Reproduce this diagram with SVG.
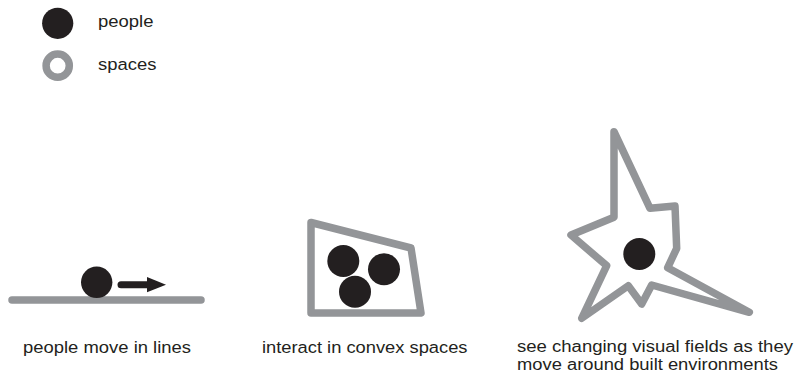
<svg xmlns="http://www.w3.org/2000/svg" width="799" height="376" viewBox="0 0 799 376">
<style>
.lbl{font-family:"Liberation Sans",Arial,Helvetica,sans-serif;font-size:16.8px;fill:#231f20}
.two{font-size:16px}
.ppl{fill:#231f20}
.spc{fill:none;stroke:#939598;stroke-width:7.5;stroke-linejoin:round;stroke-linecap:round}
</style>
<rect width="799" height="376" fill="#ffffff"/>
<g id="legend">
  <g id="legend-people">
    <circle class="ppl" cx="57.7" cy="23.3" r="15.6"/>
    <text class="lbl" x="98" y="27.4" textLength="55.5" lengthAdjust="spacingAndGlyphs">people</text>
  </g>
  <g id="legend-spaces">
    <circle class="spc" cx="57.7" cy="65.7" r="11.6"/>
    <text class="lbl" x="98" y="70" textLength="58.4" lengthAdjust="spacingAndGlyphs">spaces</text>
  </g>
</g>
<g id="lines-panel">
  <line class="spc" x1="12" y1="300" x2="201" y2="300"/>
  <circle class="ppl" cx="96.7" cy="282.3" r="15.7"/>
  <line x1="121" y1="284.7" x2="150" y2="284.7" stroke="#231f20" stroke-width="7" stroke-linecap="round"/>
  <polygon class="ppl" points="147,277 166,284.7 147,292.3"/>
  <text class="lbl" x="23" y="353" textLength="168" lengthAdjust="spacingAndGlyphs">people move in lines</text>
</g>
<g id="convex-panel">
  <polygon class="spc" points="311,222.5 411,248 421,313 311,313"/>
  <circle class="ppl" cx="343.3" cy="261" r="16"/>
  <circle class="ppl" cx="384" cy="269.3" r="16"/>
  <circle class="ppl" cx="355" cy="291.7" r="16"/>
  <text class="lbl" x="262" y="352.8" textLength="205.5" lengthAdjust="spacingAndGlyphs">interact in convex spaces</text>
</g>
<g id="visual-panel">
  <polygon class="spc" points="614,131.7 650,208.3 675,206 676.7,248.3 667.7,267.7 749.3,312.3 651.7,285 641.7,304 628.3,285.7 581.7,318.3 606.7,265.7 571,235 614,217.3"/>
  <circle class="ppl" cx="639.3" cy="254" r="16"/>
  <text class="lbl two" x="517" y="351.5" textLength="276" lengthAdjust="spacingAndGlyphs">see changing visual fields as they</text>
  <text class="lbl two" x="517" y="369.5" textLength="261" lengthAdjust="spacingAndGlyphs">move around built environments</text>
</g>
</svg>
